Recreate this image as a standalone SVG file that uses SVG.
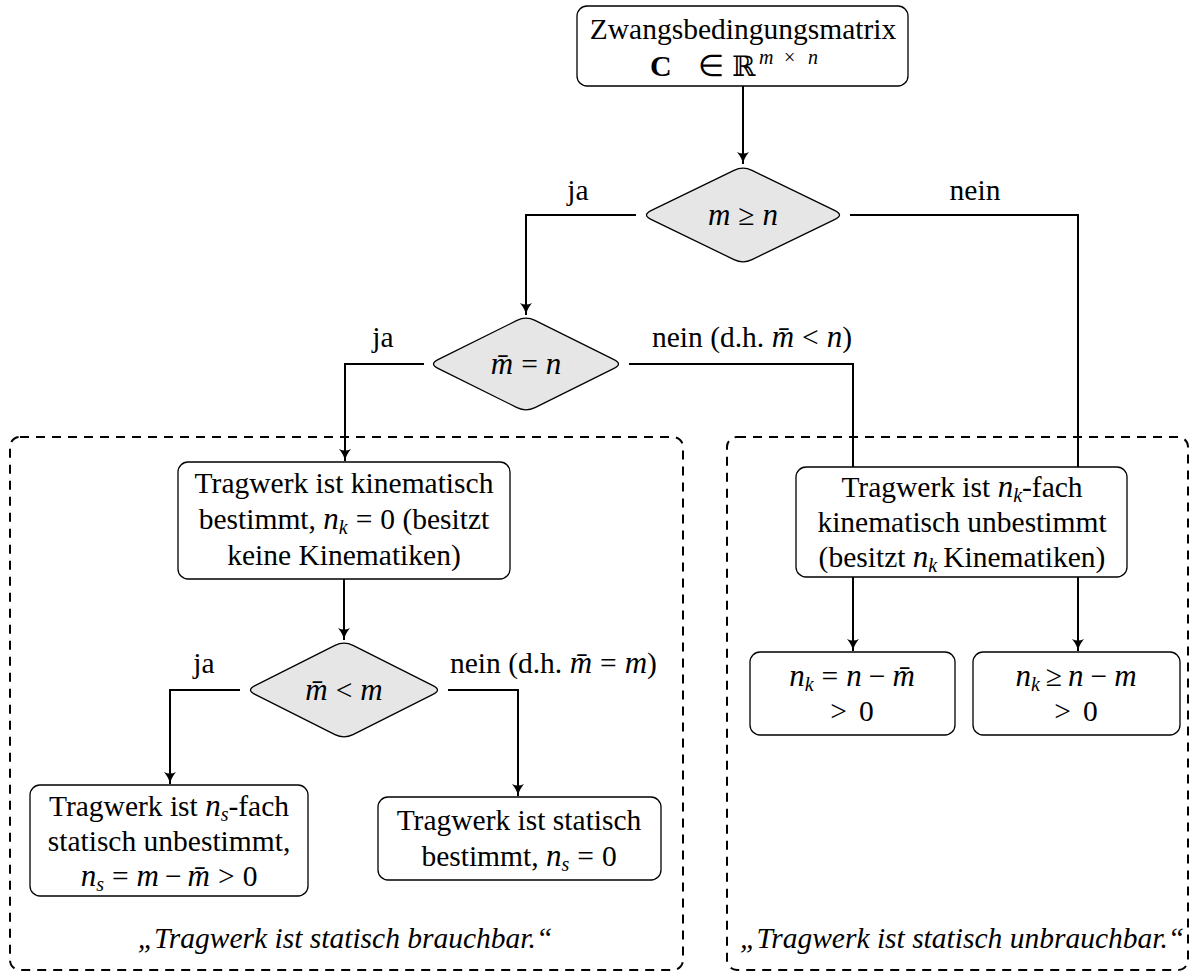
<svg xmlns="http://www.w3.org/2000/svg" width="1192" height="971" viewBox="0 0 1192 971" font-family="'Liberation Serif', 'Times New Roman', serif">
<defs>
<style>
text{font-family:"Liberation Serif","Times New Roman",serif;font-size:29.5px;fill:#000}
.c{text-anchor:middle}
.i{font-style:italic}
.m{font-style:italic;font-size:31px}
.sub{font-size:20px;font-style:italic}
.sup{font-size:20px}
.box{fill:#fff;stroke:#000;stroke-width:1.3}
.dia{fill:#e6e6e6;stroke:#000;stroke-width:1.3}
.con{fill:none;stroke:#000;stroke-width:2}
.dash{fill:none;stroke:#000;stroke-width:2;stroke-dasharray:9,7}
</style>
<marker id="arr" markerWidth="16" markerHeight="16" refX="13" refY="8" orient="auto" markerUnits="userSpaceOnUse">
<path d="M1,2 Q7,7 13,8 Q7,9 1,14 Q4,8 1,2 Z" fill="#000"/>
</marker>
</defs>

<g id="regions">
<rect class="dash" x="10" y="437" width="673" height="533" rx="10"/>
<rect class="dash" x="727" y="437" width="461" height="533" rx="10"/>
</g>

<g id="connectors">
<path class="con" d="M743,86 V164" marker-end="url(#arr)"/>
<path class="con" d="M636,215 H526 V315" marker-end="url(#arr)"/>
<path class="con" d="M850,215 H1078 V467"/>
<path class="con" d="M424,364 H345 V461" marker-end="url(#arr)"/>
<path class="con" d="M629,364 H853 V467"/>
<path class="con" d="M344,579 V640" marker-end="url(#arr)"/>
<path class="con" d="M240,690 H170 V784" marker-end="url(#arr)"/>
<path class="con" d="M448,690 H518 V796" marker-end="url(#arr)"/>
<path class="con" d="M853,577 V651" marker-end="url(#arr)"/>
<path class="con" d="M1078,577 V651" marker-end="url(#arr)"/>
</g>

<g id="labels">
<text class="c" x="578" y="200">ja</text>
<text class="c" x="975" y="200">nein</text>
<text class="c" x="383" y="347">ja</text>
<text x="652" y="347">nein (d.h. <tspan class="m">m&#x304;</tspan><tspan dx="8">&lt;</tspan><tspan class="m" dx="8">n</tspan>)</text>
<text class="c" x="204" y="673">ja</text>
<text x="450" y="673">nein (d.h. <tspan class="m">m&#x304;</tspan><tspan dx="8">=</tspan><tspan class="m" dx="8">m</tspan>)</text>
</g>

<g id="n_matrix">
<rect class="box" x="577" y="6" width="331" height="80" rx="10"/>
<text class="c" x="743" y="39">Zwangsbedingungsmatrix</text>
<text x="650" y="76"><tspan font-weight="bold" style="font-size:30px">C</tspan><tspan x="698">∈</tspan><tspan x="732" style="font-family:'DejaVu Serif',serif;font-size:28px">ℝ</tspan><tspan class="sup i" x="759" dy="-12">m</tspan><tspan class="sup" x="784">×</tspan><tspan class="sup i" x="808">n</tspan></text>
</g>

<g id="d_m_ge_n">
<path class="dia" d="M651,210.6 L734,170.4 Q743,166 752,170.4 L835,210.6 Q844,215 835,219.4 L752,259.6 Q743,264 734,259.6 L651,219.4 Q642,215 651,210.6 Z"/>
<text class="c" x="743" y="225"><tspan class="m">m</tspan><tspan dx="8">≥</tspan><tspan class="m" dx="8">n</tspan></text>
</g>

<g id="d_mbar_eq_n">
<path class="dia" d="M438,359.6 L517,320.4 Q526,316 535,320.4 L614,359.6 Q623,364 614,368.4 L535,407.6 Q526,412 517,407.6 L438,368.4 Q429,364 438,359.6 Z"/>
<text class="c" x="526" y="374"><tspan class="m">m&#x304;</tspan><tspan dx="8">=</tspan><tspan class="m" dx="8">n</tspan></text>
</g>

<g id="n_kin_bestimmt">
<rect class="box" x="178" y="462" width="332" height="117" rx="10"/>
<text class="c" x="344" y="493">Tragwerk ist kinematisch</text>
<text class="c" x="344" y="529">bestimmt, <tspan class="m">n</tspan><tspan class="sub" dy="5">k</tspan><tspan dy="-5" dx="8">=</tspan><tspan dx="8">0 (besitzt</tspan></text>
<text class="c" x="344" y="565">keine Kinematiken)</text>
</g>

<g id="n_kin_unbestimmt">
<rect class="box" x="796" y="467" width="331" height="110" rx="10"/>
<text class="c" x="962" y="497">Tragwerk ist <tspan class="m">n</tspan><tspan class="sub" dy="5">k</tspan><tspan dy="-5">-fach</tspan></text>
<text class="c" x="962" y="532">kinematisch unbestimmt</text>
<text class="c" x="962" y="567">(besitzt <tspan class="m">n</tspan><tspan class="sub" dy="5">k</tspan><tspan dy="-5" dx="6">Kinematiken)</tspan></text>
</g>

<g id="d_mbar_lt_m">
<path class="dia" d="M255,685.6 L335,645.4 Q344,641 353,645.4 L433,685.6 Q442,690 433,694.4 L353,734.6 Q344,739 335,734.6 L255,694.4 Q246,690 255,685.6 Z"/>
<text class="c" x="344" y="700"><tspan class="m">m&#x304;</tspan><tspan dx="8">&lt;</tspan><tspan class="m" dx="8">m</tspan></text>
</g>

<g id="n_stat_unbestimmt">
<rect class="box" x="30" y="785" width="278" height="111" rx="10"/>
<text class="c" x="169" y="816">Tragwerk ist <tspan class="m">n</tspan><tspan class="sub" dy="5">s</tspan><tspan dy="-5">-fach</tspan></text>
<text class="c" x="169" y="851">statisch unbestimmt,</text>
<text class="c" x="169" y="886"><tspan class="m">n</tspan><tspan class="sub" dy="5">s</tspan><tspan dy="-5" dx="8">=</tspan><tspan class="m" dx="8">m</tspan><tspan dx="6">−</tspan><tspan class="m" dx="6">m&#x304;</tspan><tspan dx="8">&gt;</tspan><tspan dx="8">0</tspan></text>
</g>

<g id="n_stat_bestimmt">
<rect class="box" x="378" y="797" width="283" height="83" rx="10"/>
<text class="c" x="519" y="830">Tragwerk ist statisch</text>
<text class="c" x="519" y="866">bestimmt, <tspan class="m">n</tspan><tspan class="sub" dy="5">s</tspan><tspan dy="-5" dx="8">=</tspan><tspan dx="8">0</tspan></text>
</g>

<g id="n_nk_eq">
<rect class="box" x="750" y="652" width="205" height="83" rx="10"/>
<text class="c" x="852" y="686"><tspan class="m">n</tspan><tspan class="sub" dy="5">k</tspan><tspan dy="-5" dx="8">=</tspan><tspan class="m" dx="8">n</tspan><tspan dx="7">−</tspan><tspan class="m" dx="7">m&#x304;</tspan></text>
<text class="c" x="852" y="721">&gt;<tspan dx="12">0</tspan></text>
</g>

<g id="n_nk_ge">
<rect class="box" x="973" y="652" width="207" height="83" rx="10"/>
<text class="c" x="1076" y="686"><tspan class="m">n</tspan><tspan class="sub" dy="5">k</tspan><tspan dy="-5" dx="6">≥</tspan><tspan class="m" dx="6">n</tspan><tspan dx="7">−</tspan><tspan class="m" dx="7">m</tspan></text>
<text class="c" x="1076" y="721">&gt;<tspan dx="12">0</tspan></text>
</g>

<g id="captions">
<text class="c i" x="345" y="948">„Tragwerk ist statisch brauchbar.“</text>
<text class="i" x="740" y="948">„Tragwerk ist statisch unbrauchbar.“</text>
</g>
</svg>
